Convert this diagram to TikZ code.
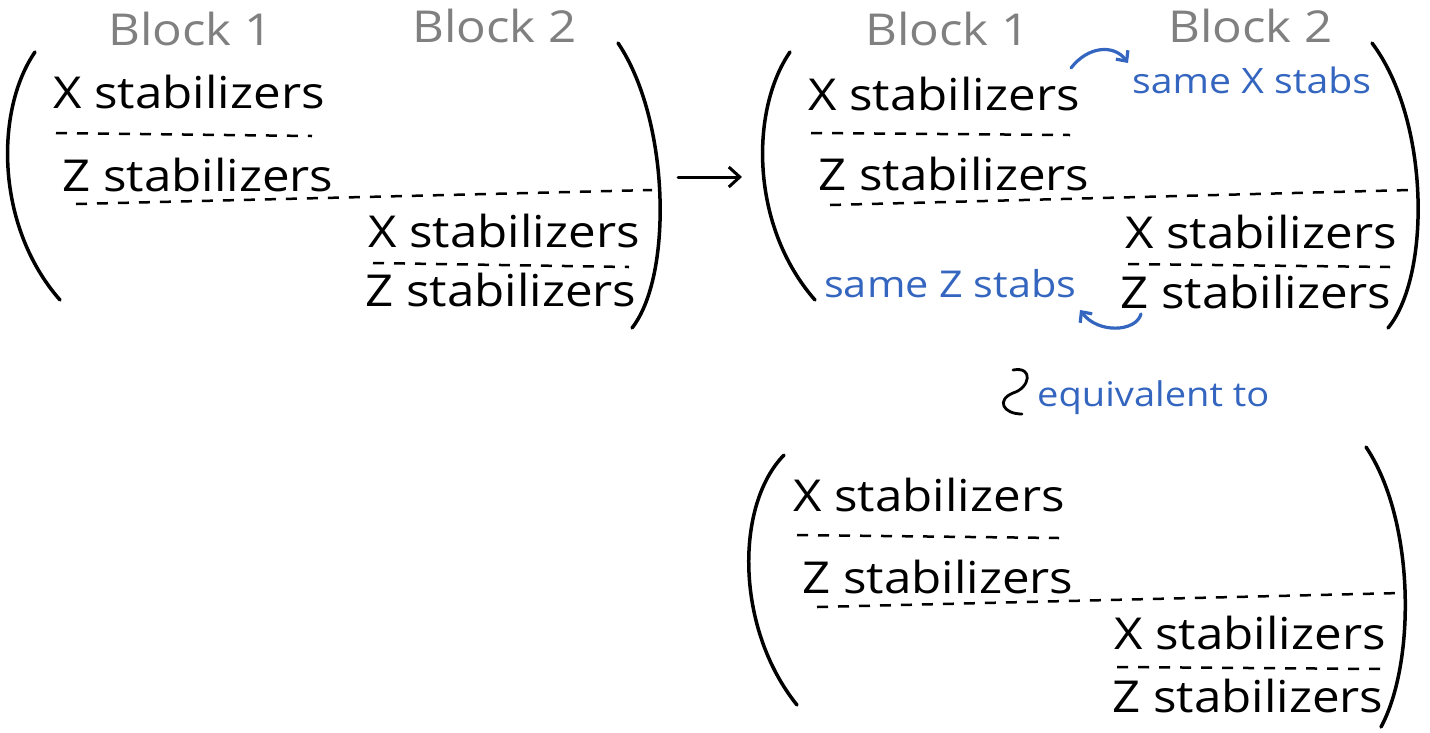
\documentclass[tikz,border=0pt]{standalone}
\usepackage{fontspec}
\setmainfont{Open Sans}[FakeStretch=1.12]
\usetikzlibrary{arrows.meta}
\definecolor{hblue}{RGB}{52,102,192}
\definecolor{hgray}{RGB}{128,128,128}
\begin{document}
\begin{tikzpicture}[x=1pt,y=-1pt,
  txt/.style={font=\fontsize{44}{50}\selectfont, inner sep=0pt, anchor=base west},
  blk/.style={txt, text=hgray},
  note/.style={font=\fontsize{36}{40}\selectfont, inner sep=0pt, anchor=base west, text=hblue},
  sep/.style={line width=2.5pt, dash pattern=on 11pt off 10pt},
  paren/.style={line width=3.5pt, line cap=round},
  barrow/.style={hblue, line width=3.2pt, line cap=round, -{Straight Barb[length=8pt,width=15pt]}},
  karrow/.style={line width=3pt, line cap=round, -{Straight Barb[length=11pt,width=20pt]}}]
\useasboundingbox (0,0) rectangle (1430,732);

% ---------- left matrix ----------
\node[blk] (lb1) at (108,45) {Block 1};
\node[blk] (lb2) at (412,42) {Block 2};
\draw[paren] (35,52) .. controls (-5,110) and (-5,226) .. (60,300);
\draw[paren] (618,43) .. controls (670,120) and (673,276) .. (632,328);
\node[txt] (lx1) at (53,108) {X stabilizers};
\node[txt] (lz1) at (62,191) {Z stabilizers};
\node[txt] (lx2) at (368,247) {X stabilizers};
\node[txt] (lz2) at (365,306) {Z stabilizers};
\coordinate (ld1a) at (56,133); \coordinate (ld1b) at (312,136);
\coordinate (ld2a) at (76,204); \coordinate (ld2b) at (652,190);
\coordinate (ld3a) at (373,263); \coordinate (ld3b) at (629,267);
\draw[sep] (ld1a) -- (ld1b);
\draw[sep] (ld2a) -- (ld2b);
\draw[sep] (ld3a) -- (ld3b);

% ---------- main arrow ----------
\coordinate (ma) at (678,177);
\coordinate (mb) at (742,177);
\draw[karrow] (ma) -- (mb);

% ---------- right top matrix ----------
\node[blk] (rb1) at (865,45) {Block 1};
\node[blk] (rb2) at (1168,42) {Block 2};
\draw[paren] (790,52) .. controls (750,110) and (750,226) .. (815,300);
\draw[paren] (1372,43) .. controls (1430,120) and (1431,276) .. (1388,328);
\node[txt] (rx1) at (808,110) {X stabilizers};
\node[txt] (rz1) at (818,190) {Z stabilizers};
\node[txt] (rx2) at (1125,248) {X stabilizers};
\node[txt] (rz2) at (1120,308) {Z stabilizers};
\coordinate (rd1a) at (811,133); \coordinate (rd1b) at (1070,135);
\coordinate (rd2a) at (830,205); \coordinate (rd2b) at (1410,190);
\coordinate (rd3a) at (1128,264); \coordinate (rd3b) at (1390,267);
\draw[sep] (rd1a) -- (rd1b);
\draw[sep] (rd2a) -- (rd2b);
\draw[sep] (rd3a) -- (rd3b);

\node[note, font=\fontsize{35}{40}\selectfont] (sx) at (1132,93) {same X stabs};
\node[note, font=\fontsize{37}{40}\selectfont] (sz) at (824,297) {same Z stabs};
\coordinate (ax1) at (1071,68);
\coordinate (ax2) at (1128,63);
\draw[barrow] (ax1) .. controls (1088,46) and (1114,44) .. (ax2);
\coordinate (az1) at (1141,314);
\coordinate (az2) at (1080,310);
\draw[barrow] (az1) .. controls (1136,332) and (1098,334) .. (az2);

% ---------- equivalent ----------
\draw[line width=2.8pt, line cap=round] (1013,370) .. controls (1034,366) and (1030,388) .. (1013,393)
  .. controls (996,400) and (1003,414) .. (1022,414);
\node[note, font=\fontsize{34}{40}\selectfont] (eq) at (1037,406) {equivalent to};

% ---------- bottom matrix ----------
\draw[paren] (784,455) .. controls (735,505) and (735,628) .. (797,705);
\draw[paren] (1366,447) .. controls (1415,520) and (1416,662) .. (1381,727);
\node[txt] (bx1) at (793,511) {X stabilizers};
\node[txt] (bz1) at (802,593) {Z stabilizers};
\node[txt] (bx2) at (1114,649) {X stabilizers};
\node[txt] (bz2) at (1112,712) {Z stabilizers};
\coordinate (bd1a) at (797,535); \coordinate (bd1b) at (1059,538);
\coordinate (bd2a) at (817,607); \coordinate (bd2b) at (1401,593);
\coordinate (bd3a) at (1117,667); \coordinate (bd3b) at (1383,669);
\draw[sep] (bd1a) -- (bd1b);
\draw[sep] (bd2a) -- (bd2b);
\draw[sep] (bd3a) -- (bd3b);
\end{tikzpicture}
\end{document}
